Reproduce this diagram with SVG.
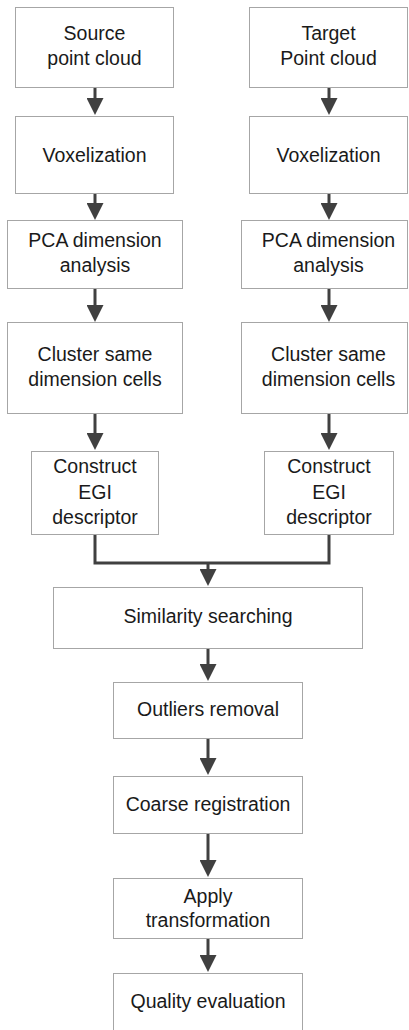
<svg xmlns="http://www.w3.org/2000/svg" width="409" height="1030" viewBox="0 0 409 1030">
<style>
.box{fill:#fff;stroke:#a6a6a6;stroke-width:1}
.t{font-family:"Liberation Sans",Arial,sans-serif;font-size:19.5px;fill:#1a1a1a;text-anchor:middle}
.c{fill:none;stroke:#404040;stroke-width:3}
</style>
<defs>
<marker id="ah" markerUnits="userSpaceOnUse" viewBox="0 0 17 17" refX="6" refY="8.5" markerWidth="17" markerHeight="17" orient="auto">
<path d="M0,0 L17,8.5 L0,17 z" fill="#404040"/>
</marker>
</defs>
<rect width="409" height="1030" fill="#fff"/>
<g id="connectors">
<line class="c" x1="95" y1="87" x2="95" y2="104" marker-end="url(#ah)"/>
<line class="c" x1="95" y1="193" x2="95" y2="209" marker-end="url(#ah)"/>
<line class="c" x1="95" y1="288" x2="95" y2="311" marker-end="url(#ah)"/>
<line class="c" x1="95" y1="413" x2="95" y2="439" marker-end="url(#ah)"/>
<line class="c" x1="329" y1="87" x2="329" y2="104" marker-end="url(#ah)"/>
<line class="c" x1="329" y1="193" x2="329" y2="209" marker-end="url(#ah)"/>
<line class="c" x1="329" y1="288" x2="329" y2="311" marker-end="url(#ah)"/>
<line class="c" x1="329" y1="413" x2="329" y2="439" marker-end="url(#ah)"/>
<path class="c" d="M95,534 V563 H329 V534"/>
<line class="c" x1="208" y1="563" x2="208" y2="575" marker-end="url(#ah)"/>
<line class="c" x1="208" y1="648" x2="208" y2="670" marker-end="url(#ah)"/>
<line class="c" x1="208" y1="738" x2="208" y2="764" marker-end="url(#ah)"/>
<line class="c" x1="208" y1="833" x2="208" y2="866" marker-end="url(#ah)"/>
<line class="c" x1="208" y1="938" x2="208" y2="961" marker-end="url(#ah)"/>
</g>
<g id="source"><rect class="box" x="15.5" y="7.5" width="158" height="80"/><text class="t" x="94.5" y="40">Source</text><text class="t" x="94.5" y="65">point cloud</text></g>
<g id="vox-left"><rect class="box" x="15.5" y="116.5" width="158" height="77"/><text class="t" x="94.5" y="162">Voxelization</text></g>
<g id="pca-left"><rect class="box" x="7.5" y="220.5" width="175" height="68"/><text class="t" x="95" y="247">PCA dimension</text><text class="t" x="95" y="272">analysis</text></g>
<g id="cluster-left"><rect class="box" x="7.5" y="322.5" width="175" height="91"/><text class="t" x="95" y="361">Cluster same</text><text class="t" x="95" y="386">dimension cells</text></g>
<g id="egi-left"><rect class="box" x="31.5" y="451.5" width="127" height="83"/><text class="t" x="95" y="473">Construct</text><text class="t" x="95" y="499">EGI</text><text class="t" x="95" y="524">descriptor</text></g>
<g id="target"><rect class="box" x="249.5" y="7.5" width="158" height="80"/><text class="t" x="328.5" y="40">Target</text><text class="t" x="328.5" y="65">Point cloud</text></g>
<g id="vox-right"><rect class="box" x="249.5" y="116.5" width="158" height="77"/><text class="t" x="328.5" y="162">Voxelization</text></g>
<g id="pca-right"><rect class="box" x="241.5" y="220.5" width="166" height="68"/><text class="t" x="328.5" y="247">PCA dimension</text><text class="t" x="328.5" y="272">analysis</text></g>
<g id="cluster-right"><rect class="box" x="241.5" y="322.5" width="166" height="91"/><text class="t" x="328.5" y="361">Cluster same</text><text class="t" x="328.5" y="386">dimension cells</text></g>
<g id="egi-right"><rect class="box" x="264.5" y="451.5" width="129" height="83"/><text class="t" x="329" y="473">Construct</text><text class="t" x="329" y="499">EGI</text><text class="t" x="329" y="524">descriptor</text></g>
<g id="similarity"><rect class="box" x="53.5" y="587.5" width="309" height="61"/><text class="t" x="208" y="623">Similarity searching</text></g>
<g id="outliers"><rect class="box" x="113.5" y="682.5" width="189" height="56"/><text class="t" x="208" y="716">Outliers removal</text></g>
<g id="coarse"><rect class="box" x="113.5" y="776.5" width="189" height="57"/><text class="t" x="208" y="811">Coarse registration</text></g>
<g id="apply"><rect class="box" x="113.5" y="878.5" width="189" height="60"/><text class="t" x="208" y="903">Apply</text><text class="t" x="208" y="927">transformation</text></g>
<g id="quality"><rect class="box" x="113.5" y="973.5" width="189" height="80"/><text class="t" x="208" y="1008">Quality evaluation</text></g>
</svg>
